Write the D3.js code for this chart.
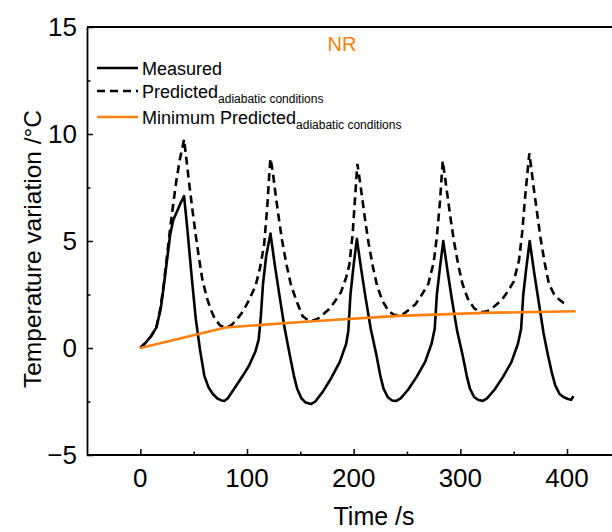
<!DOCTYPE html>
<html><head><meta charset="utf-8">
<script src="https://cdn.jsdelivr.net/npm/d3@7"></script>
<style>body{margin:0;background:#fff}svg{display:block}text{font-family:"Liberation Sans",Arial,sans-serif}</style>
</head><body><svg id="c" width="612" height="532"></svg>
<script>
// Measured (time s, temperature °C)
const measuredT = [0,5,10,15,19,22,25,28,31,35,38,41,44,48,52,56,60,64,68,72,76,79,82,86,90,96,102,108,111,113,115,118,122,
 126,130,135,140,144,147,151,155,160,164,171,179,187,193,195,197,200,203,
 207,211,216,221,225,228,232,236,240,244,251,259,267,273,276,278,281,284,
 288,292,297,302,306,309,313,317,321,325,332,340,348,354,357,359,362,365,
 369,373,378,382,386,389,393,397,401,404,406];
const measuredV = [0,0.25,0.55,0.95,1.8,2.9,4.1,5.3,6.0,6.45,6.8,7.1,5.6,3.4,1.35,-0.1,-1.3,-1.85,-2.15,-2.35,-2.45,-2.47,-2.35,-2.05,-1.75,-1.3,-0.82,-0.15,0.4,1.5,3.0,4.3,5.35,
 3.9,2.6,1.0,-0.3,-1.3,-1.9,-2.35,-2.55,-2.62,-2.5,-2.05,-1.4,-0.65,0.2,0.8,2.5,3.9,5.1,
 3.7,2.4,0.9,-0.25,-1.3,-1.9,-2.3,-2.45,-2.47,-2.35,-1.95,-1.35,-0.65,0.2,0.9,2.5,3.8,5.0,
 3.6,2.3,0.8,-0.3,-1.3,-1.9,-2.3,-2.43,-2.47,-2.35,-1.95,-1.35,-0.65,0.2,0.9,2.5,3.8,5.0,
 3.6,2.3,0.7,-0.3,-1.2,-1.75,-2.15,-2.3,-2.38,-2.42,-2.25];
// Predicted, adiabatic conditions
const predictedT = [0,5,10,15,19,22,25,28,31,34,37,40,41,43,46,49,52,55,58,62,66,70,75,80,85,90,96,102,108,112,116,119,121,122,
 124,127,130,133,137,141,146,152,157,161,166,172,177,182,188,193,196,199,201,203.5,
 205,208,211,214,218,222,227,233,238,242,247,252,258,264,270,275,278,281,283.5,
 285,288,291,294,298,302,307,313,318,322,327,332,338,344,350,355,358,361,364.7,
 366,369,372,375,379,383,388,393,397,400.6];
const predictedV = [0,0.25,0.55,0.95,1.9,3.0,4.3,5.6,6.8,7.9,8.8,9.5,9.75,8.9,7.6,6.4,5.25,4.2,3.25,2.4,1.8,1.35,1.05,0.96,1.05,1.3,1.7,2.25,2.9,3.7,4.8,6.6,8.2,8.85,
 8.3,7.1,6.0,5.0,3.9,3.0,2.25,1.5,1.3,1.27,1.35,1.6,1.82,2.15,2.6,3.3,3.9,5.3,6.8,8.6,
 8.1,7.0,5.9,4.9,3.8,2.9,2.2,1.7,1.55,1.52,1.6,1.8,2.05,2.5,3.0,4.0,5.2,6.9,8.75,
 8.2,7.1,6.0,5.0,3.9,3.0,2.3,1.85,1.7,1.68,1.75,1.95,2.2,2.6,3.1,4.1,5.4,7.2,9.1,
 8.6,7.4,6.3,5.2,4.0,3.0,2.5,2.25,2.1,2.05];
// Minimum predicted, adiabatic conditions
const minimumT = [0,80,161,242,322,408];
const minimumV = [0,0.96,1.25,1.5,1.64,1.72];

const xMajor = [0,100,200,300,400];
const xMinor = [50,150,250,350];
const yMajor = [-5,0,5,10,15];
const yMinor = [-2.5,2.5,7.5,12.5];

const svg = d3.select("#c");
const x = d3.scaleLinear().domain([-50,460]).range([87,631]);
const y = d3.scaleLinear().domain([-5,15]).range([455,27]);
const orange = "#ff7f0e";

const line = d3.line().x(d=>x(d[0])).y(d=>y(d[1]));
const zip = (a,b)=>a.map((t,i)=>[t,b[i]]);

svg.append("path").attr("d", line(zip(predictedT,predictedV)))
  .attr("fill","none").attr("stroke","#000").attr("stroke-width",2.6).attr("stroke-dasharray","8,5");
svg.append("path").attr("d", line(zip(measuredT,measuredV)))
  .attr("fill","none").attr("stroke","#000").attr("stroke-width",2.6).attr("stroke-linejoin","round");
svg.append("path").attr("d", line(zip(minimumT,minimumV)))
  .attr("fill","none").attr("stroke",orange).attr("stroke-width",2.6);

// frame
const fr = svg.append("g").attr("stroke","#000").attr("stroke-width",1.8);
fr.append("line").attr("x1",x(-50)).attr("x2",x(460)).attr("y1",y(15)).attr("y2",y(15));
fr.append("line").attr("x1",x(-50)).attr("x2",x(460)).attr("y1",y(-5)).attr("y2",y(-5));

// axes with inward ticks
svg.append("g").attr("transform",`translate(0,${y(-5)})`)
  .call(d3.axisTop(x).tickValues(xMajor).tickSize(6).tickFormat("").tickSizeOuter(0))
  .select(".domain").remove();
svg.append("g").attr("transform",`translate(0,${y(-5)})`)
  .call(d3.axisTop(x).tickValues(xMinor).tickSize(3.5).tickFormat("").tickSizeOuter(0))
  .select(".domain").remove();
svg.append("g").attr("transform",`translate(${x(-50)},0)`)
  .call(d3.axisRight(y).tickValues(yMajor).tickSize(6).tickFormat("").tickSizeOuter(0))
  .select(".domain").attr("stroke-width",1.8);
svg.append("g").attr("transform",`translate(${x(-50)},0)`)
  .call(d3.axisRight(y).tickValues(yMinor).tickSize(3.5).tickFormat("").tickSizeOuter(0))
  .select(".domain").remove();
svg.selectAll(".tick line").attr("stroke-width",1.5);

// tick labels
svg.append("g").selectAll("text").data(xMajor).join("text")
  .attr("x",d=>x(d)).attr("y",487).attr("text-anchor","middle")
  .attr("font-size",26).text(d=>d);
svg.append("g").selectAll("text").data(yMajor).join("text")
  .attr("x",77).attr("y",d=>y(d)).attr("dy","0.36em").attr("text-anchor","end")
  .attr("font-size",26).text(d=>d<0?"\u2212"+Math.abs(d):d);

// axis titles
svg.append("text").attr("x",374).attr("y",525).attr("text-anchor","middle")
  .attr("font-size",25).text("Time /s");
svg.append("text").attr("transform","translate(41,249) rotate(-90)").attr("text-anchor","middle")
  .attr("font-size",24.5).text("Temperature variation /°C");

// title
svg.append("text").attr("x",342).attr("y",51).attr("text-anchor","middle")
  .attr("font-size",20).attr("fill",orange).text("NR");

// legend
const leg = [
  {name:"Measured", sub:"", color:"#000", dash:null, y:68},
  {name:"Predicted", sub:"adiabatic conditions", color:"#000", dash:"8,5", y:91},
  {name:"Minimum Predicted", sub:"adiabatic conditions", color:orange, dash:null, y:117}
];
const lg = svg.append("g");
leg.forEach(d=>{
  lg.append("line").attr("x1",97).attr("x2",138).attr("y1",d.y).attr("y2",d.y)
    .attr("stroke",d.color).attr("stroke-width",2.6).attr("stroke-dasharray",d.dash);
  const t = lg.append("text").attr("x",142).attr("y",d.y+6.5).attr("font-size",18);
  t.append("tspan").text(d.name);
  if(d.sub) t.append("tspan").attr("dy",5).attr("font-size",12).text(d.sub);
});
</script></body></html>
